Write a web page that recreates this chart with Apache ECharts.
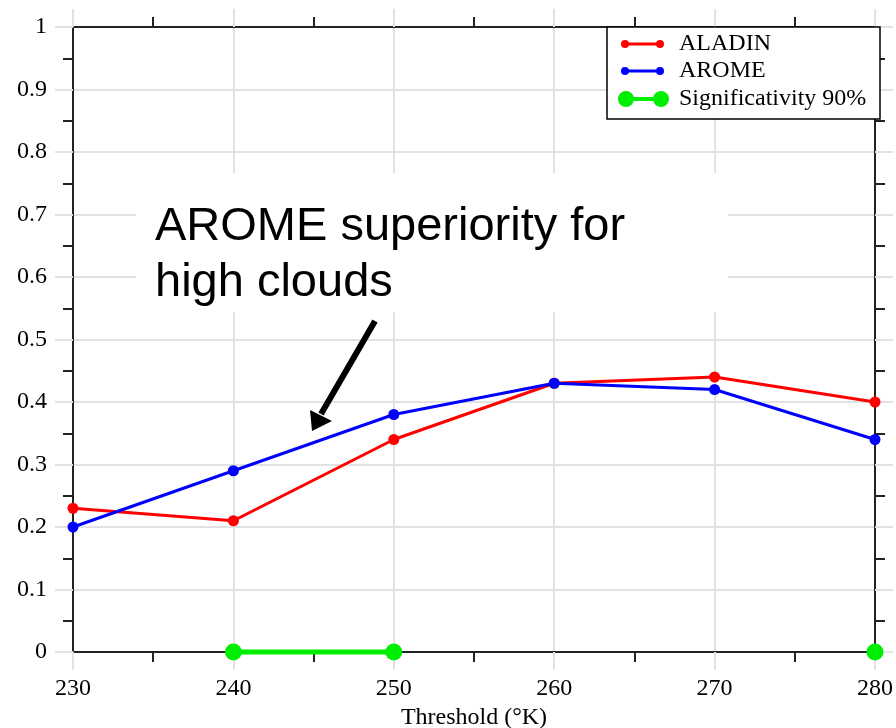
<!DOCTYPE html>
<html>
<head>
<meta charset="utf-8">
<script src="https://cdn.jsdelivr.net/npm/echarts@6/dist/echarts.min.js"></script>
<style>
  html, body { margin: 0; padding: 0; background: #fff; }
  #chart { width: 896px; height: 728px; }
</style>
</head>
<body>
<div id="chart"></div>
<script>
// Threshold (K) categories on the x axis
const thresholds = [230, 240, 250, 260, 270, 280];
// Scores per model
const aladin = [0.23, 0.21, 0.34, 0.43, 0.44, 0.40];
const arome  = [0.20, 0.29, 0.38, 0.43, 0.42, 0.34];
// Thresholds where the difference is significant at 90% (null = not significant)
const significant = [null, 0, 0, null, null, 0];

const serif = 'Liberation Serif';
const gridGray = '#e2e2e2';
const axisBlack = '#222';
const RED = '#ff0000', BLUE = '#0000ff', GREEN = '#00ee00';

const pairs = (vals) => thresholds.map((t, i) => [t, vals[i] === null ? '-' : vals[i]]);

// Legend icons: a short segment with a dot at each end (all sub-paths clockwise)
const smallIcon = 'path://M0,4A4,4 0 1,1 8,4A4,4 0 1,1 0,4Z M35,4A4,4 0 1,1 43,4A4,4 0 1,1 35,4Z M7.5,2.5L35.5,2.5L35.5,5.5L7.5,5.5Z';
const bigIcon = 'path://M0,8A8,8 0 1,1 16,8A8,8 0 1,1 0,8Z M35,8A8,8 0 1,1 51,8A8,8 0 1,1 35,8Z M15.5,6L35.5,6L35.5,10L15.5,10Z';

const baseX = { type: 'value', min: 230, max: 280, interval: 10 };
const baseY = { type: 'value', min: 0, max: 1, interval: 0.1 };
const axisCommon = {
  axisLine: { show: true, onZero: false, lineStyle: { color: axisBlack, width: 2 } },
  axisTick: { show: true, inside: false, length: 18, lineStyle: { color: gridGray, width: 2 } },
  minorTick: { show: true, splitNumber: 2, length: 10, lineStyle: { color: axisBlack, width: 2 } }
};

function legendEntry(name, icon, color, top, left, w, h, gap) {
  return {
    data: [{
      name: name, icon: icon,
      itemStyle: { color: color, borderColor: color, borderWidth: 0, opacity: 1 },
      lineStyle: { width: 0 }
    }],
    left: left, top: top, padding: 0, itemWidth: w, itemHeight: h,
    textStyle: { fontFamily: serif, fontSize: 24, color: '#000', padding: [0, 0, 0, gap] },
    z: 10
  };
}

const chart = echarts.init(document.getElementById('chart'), null, { renderer: 'canvas' });

chart.setOption({
  backgroundColor: '#fff',
  animation: false,
  grid: { left: 73, right: 21, top: 27, bottom: 76, containLabel: false, outerBoundsMode: 'none' },
  xAxis: [
    Object.assign({}, baseX, axisCommon, {
      position: 'bottom',
      name: 'Threshold (°K)',
      nameLocation: 'middle',
      nameGap: 50,
      nameTextStyle: { fontFamily: serif, fontSize: 24, color: '#000' },
      axisLabel: { fontFamily: serif, fontSize: 24, color: '#000', margin: 25 },
      splitLine: { show: true, lineStyle: { color: gridGray, width: 2 } }
    }),
    Object.assign({}, baseX, axisCommon, {
      position: 'top',
      axisLabel: { show: false },
      splitLine: { show: false }
    })
  ],
  yAxis: [
    Object.assign({}, baseY, axisCommon, {
      position: 'left',
      axisLabel: { fontFamily: serif, fontSize: 24, color: '#000', margin: 26 },
      splitLine: { show: true, lineStyle: { color: gridGray, width: 2 } }
    }),
    Object.assign({}, baseY, axisCommon, {
      position: 'right',
      axisLabel: { show: false },
      splitLine: { show: false }
    })
  ],
  legend: [
    legendEntry('ALADIN', smallIcon, RED, 32, 621, 43, 8, 10),
    legendEntry('AROME', smallIcon, BLUE, 59, 621, 43, 8, 10),
    legendEntry('Significativity 90%', bigIcon, GREEN, 87, 618, 51, 16, 5)
  ],
  series: [
    {
      name: 'ALADIN', type: 'line', data: pairs(aladin),
      color: RED, symbol: 'circle', symbolSize: 11, clip: false,
      lineStyle: { width: 3 }, z: 3
    },
    {
      name: 'AROME', type: 'line', data: pairs(arome),
      color: BLUE, symbol: 'circle', symbolSize: 11, clip: false,
      lineStyle: { width: 3 }, z: 4
    },
    {
      name: 'Significativity 90%', type: 'line', data: pairs(significant),
      color: GREEN, symbol: 'circle', symbolSize: 17, clip: false,
      connectNulls: false, lineStyle: { width: 5 }, z: 5
    }
  ],
  graphic: [
    // legend frame
    {
      type: 'rect', z: 8,
      shape: { x: 607, y: 27, width: 273, height: 92 },
      style: { fill: '#fff', stroke: '#000', lineWidth: 1.5 }
    },
    // annotation panel and text
    {
      type: 'rect', z: 6,
      shape: { x: 136, y: 173, width: 592, height: 139 },
      style: { fill: '#fff' }
    },
    {
      type: 'text', z: 7, x: 155, y: 199,
      style: {
        text: 'AROME superiority for\nhigh clouds',
        font: '47px "Liberation Sans"',
        lineHeight: 56,
        fill: '#000',
        textAlign: 'left',
        textVerticalAlign: 'top'
      }
    },
    // annotation arrow
    {
      type: 'line', z: 7,
      shape: { x1: 375, y1: 321, x2: 321, y2: 414 },
      style: { stroke: '#000', lineWidth: 6 }
    },
    {
      type: 'polygon', z: 7,
      shape: { points: [[312, 431], [310, 410], [332, 421]] },
      style: { fill: '#000' }
    }
  ]
});
</script>
</body>
</html>
